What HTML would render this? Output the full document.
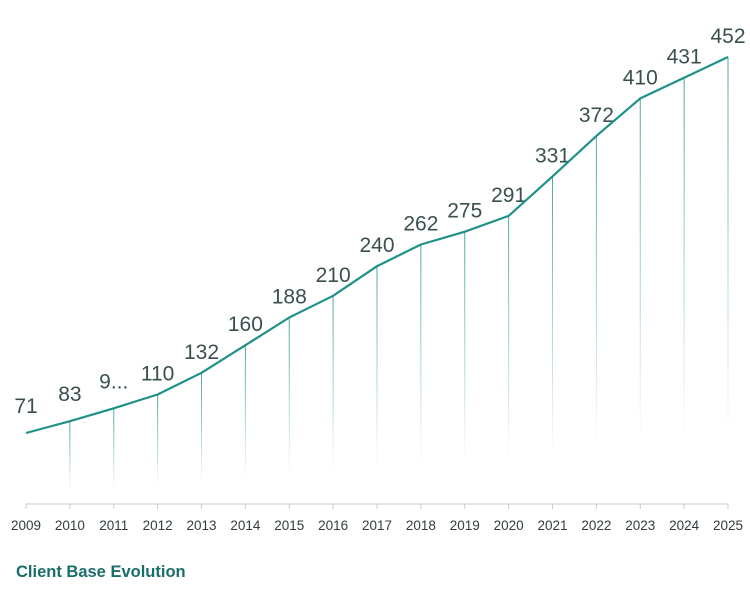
<!DOCTYPE html>
<html><head><meta charset="utf-8"><style>
body{margin:0;background:#fff;width:750px;height:587px;overflow:hidden}
text{font-family:"Liberation Sans",sans-serif}
</style></head><body>
<svg width="750" height="587" xmlns="http://www.w3.org/2000/svg">
<defs>
<linearGradient id="g" x1="0" y1="0" x2="0" y2="1">
<stop offset="0" stop-color="#1f9188" stop-opacity="0.8"/>
<stop offset="0.85" stop-color="#1f9188" stop-opacity="0"/>
</linearGradient>
</defs>
<g id="c"></g>
<line x1="26" y1="504" x2="728" y2="504" stroke="#c8c8c8" stroke-width="1"/>
<text x="16" y="577" font-size="16.5" font-weight="bold" fill="#1a6e6a">Client Base Evolution</text>
</svg>
<script>
var v=[71,83,96,110,132,160,188,210,240,262,275,291,331,372,410,431,452];
var s='',pts=[];
for(var i=0;i<v.length;i++){
 var x=26+i*43.875,y=433-(v[i]-71)*0.987;
 pts.push(x.toFixed(1)+','+y.toFixed(1));
 if(i>0)s+='<rect x="'+(x-0.5)+'" y="'+y+'" width="1" height="'+(504-y)+'" fill="url(#g)"/>';
 s+='<line x1="'+x+'" y1="504" x2="'+x+'" y2="509" stroke="#c8c8c8"/>';
 s+='<text x="'+x+'" y="530" font-size="13.5" text-anchor="middle" fill="#333d3c">'+(2009+i)+'</text>';
 var lab=i==2?'9...':v[i];
 var off=i<3?20:14;
 s+='<text x="'+x+'" y="'+(y-off)+'" font-size="21" text-anchor="middle" fill="#3b504e">'+lab+'</text>';
}
s+='<polyline points="'+pts.join(' ')+'" fill="none" stroke="#1f9188" stroke-width="2.2" stroke-linejoin="round"/>';
document.getElementById('c').innerHTML=s;
</script>
</body></html>
